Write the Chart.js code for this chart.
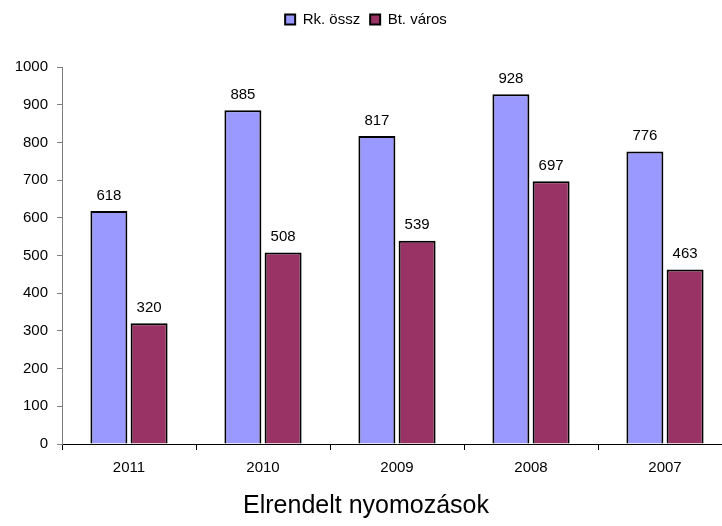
<!DOCTYPE html>
<html>
<head>
<meta charset="utf-8">
<script src="https://cdn.jsdelivr.net/npm/chart.js@4/dist/chart.umd.min.js"></script>
<style>
    html, body { margin: 0; padding: 0; background: #fff; overflow: hidden; }
    #wrap { width: 735px; height: 526px; }
</style>
</head>
<body>
<div id="wrap"><canvas id="chart" width="735" height="526"></canvas></div>
<script>
// --- data ---
const years = ['2011', '2010', '2009', '2008', '2007'];
const rkOssz = [618, 885, 817, 928, 776];
const btVaros = [320, 508, 539, 697, 463];
const yTicks = [0, 100, 200, 300, 400, 500, 600, 700, 800, 900, 1000];

const FONT = 'Arial, "Liberation Sans", sans-serif';

// value labels above the bars
const barValues = {
    id: 'barValues',
    afterDatasetsDraw(chart) {
        const ctx = chart.ctx;
        ctx.save();
        ctx.font = '15px ' + FONT;
        ctx.fillStyle = '#000';
        ctx.textAlign = 'center';
        ctx.textBaseline = 'bottom';
        chart.data.datasets.forEach((ds, i) => {
            chart.getDatasetMeta(i).data.forEach((bar, j) => {
                ctx.fillText(ds.data[j], bar.x, bar.y - 8);
            });
        });
        ctx.restore();
    }
};

// extra space under the legend
const legendGap = {
    id: 'legendGap',
    beforeInit(chart) {
        const fit = chart.legend.fit;
        chart.legend.fit = function () {
            fit.bind(chart.legend)();
            this.height += 30;
        };
    }
};

new Chart(document.getElementById('chart'), {
    type: 'bar',
    data: {
        labels: years,
        datasets: [
            {
                label: 'Rk. össz',
                data: rkOssz,
                backgroundColor: '#9999FF',
                borderColor: '#000',
                borderWidth: 2,
                barPercentage: 0.92,
                categoryPercentage: 0.6
            },
            {
                label: 'Bt. város',
                data: btVaros,
                backgroundColor: '#993366',
                borderColor: '#000',
                borderWidth: 2,
                barPercentage: 0.92,
                categoryPercentage: 0.6
            }
        ]
    },
    options: {
        responsive: false,
        animation: false,
        layout: { padding: { top: 2, right: 3, left: 0, bottom: 0 } },
        plugins: {
            legend: {
                position: 'top',
                labels: {
                    boxWidth: 10,
                    boxHeight: 10,
                    padding: 10,
                    color: '#000',
                    font: { family: FONT, size: 15 }
                }
            },
            title: {
                display: true,
                position: 'bottom',
                text: 'Elrendelt nyomozások',
                color: '#000',
                font: { family: FONT, size: 25, weight: 'normal' },
                padding: { top: 0, bottom: 5 }
            },
            tooltip: { enabled: false }
        },
        scales: {
            x: {
                grid: {
                    offset: true,
                    drawOnChartArea: false,
                    drawTicks: true,
                    tickLength: 6,
                    color: '#000'
                },
                border: { color: '#000', width: 1 },
                ticks: {
                    color: '#000',
                    padding: 9,
                    font: { family: FONT, size: 15 }
                },
                afterFit(scale) { scale.height = 47; }
            },
            y: {
                min: 0,
                max: 1000,
                afterBuildTicks(scale) {
                    scale.ticks = yTicks.map(v => ({ value: v }));
                },
                grid: {
                    drawOnChartArea: false,
                    drawTicks: true,
                    tickLength: 5,
                    color: '#808080'
                },
                border: { color: '#808080', width: 1 },
                ticks: {
                    color: '#000',
                    padding: 9,
                    font: { family: FONT, size: 15 },
                    callback: v => String(v)
                },
                afterFit(scale) { scale.width = 62; }
            }
        }
    },
    plugins: [barValues, legendGap]
});
</script>
</body>
</html>
